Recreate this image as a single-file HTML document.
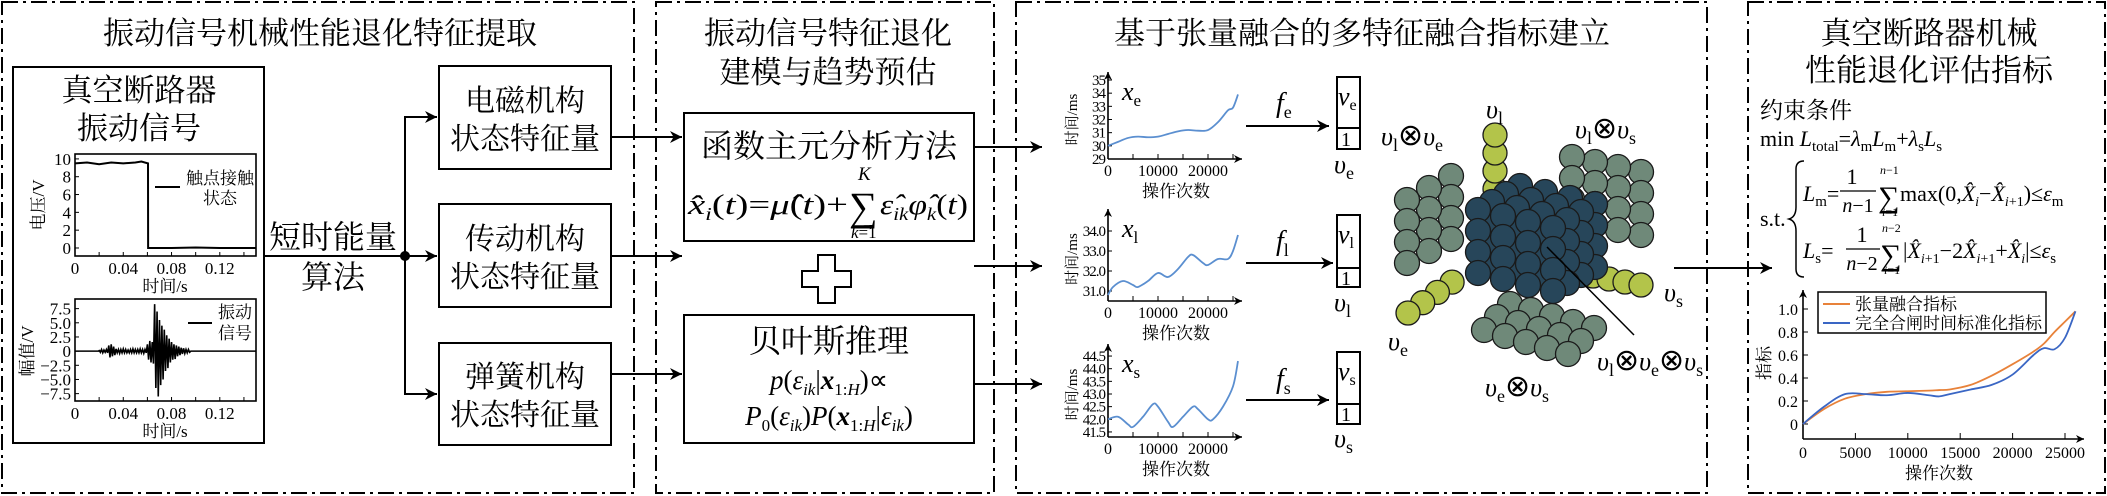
<!DOCTYPE html>
<html><head><meta charset="utf-8">
<style>
html,body{margin:0;padding:0;background:#fff;}
svg{display:block;}
.cn{font-family:"Liberation Serif","Noto Serif CJK SC",serif;}
.it{font-family:"Liberation Serif",serif;font-style:italic;}
.rm{font-family:"Liberation Serif",serif;}
</style></head>
<body>
<svg id="root" width="2107" height="496" viewBox="0 0 2107 496" xmlns="http://www.w3.org/2000/svg">
<defs>
<marker id="ah" viewBox="0 0 10 10" refX="10" refY="5" markerWidth="14" markerHeight="12" markerUnits="userSpaceOnUse" orient="auto"><path d="M0,0 L10,5 L0,10 L3,5 z" fill="#000"/></marker>
<marker id="ahs" viewBox="0 0 10 10" refX="10" refY="5" markerWidth="9" markerHeight="8" markerUnits="userSpaceOnUse" orient="auto"><path d="M0,0 L10,5 L0,10 L3,5 z" fill="#000"/></marker>
</defs>

<g fill="none" stroke="#000" stroke-width="2" stroke-dasharray="16 5 3 5">
<rect x="2" y="2" width="632" height="491"/>
<rect x="656" y="2" width="338" height="491"/>
<rect x="1016" y="2" width="691" height="491"/>
<rect x="1748" y="2" width="357" height="491"/>
</g>

<g class="cn" font-size="31" text-anchor="middle" fill="#000">
<text x="320" y="44">振动信号机械性能退化特征提取</text>
<text x="828" y="44">振动信号特征退化</text>
<text x="828" y="83">建模与趋势预估</text>
<text x="1362" y="44">基于张量融合的多特征融合指标建立</text>
<text x="1929" y="44">真空断路器机械</text>
<text x="1929" y="81">性能退化评估指标</text>
</g>

<rect x="13" y="67" width="251" height="376" fill="none" stroke="#000" stroke-width="2"/>
<g class="cn" font-size="31" text-anchor="middle">
<text x="139" y="101">真空断路器</text>
<text x="139" y="139">振动信号</text>
</g>
<g id="p1charts"></g>

<g class="cn" font-size="32" text-anchor="middle">
<text x="333" y="248">短时能量</text>
<text x="333" y="288">算法</text>
</g>
<g stroke="#000" stroke-width="2" fill="none">
<line x1="264" y1="256" x2="437" y2="256" marker-end="url(#ah)"/>
<polyline points="405,256 405,117 437,117" marker-end="url(#ah)"/>
<polyline points="405,256 405,394 437,394" marker-end="url(#ah)"/>
</g>
<circle cx="405" cy="256" r="5" fill="#000"/>
<g fill="none" stroke="#000" stroke-width="2">
<rect x="439" y="66" width="172" height="103"/>
<rect x="439" y="204" width="172" height="103"/>
<rect x="439" y="343" width="172" height="102"/>
</g>
<g class="cn" font-size="30" text-anchor="middle">
<text x="525" y="111">电磁机构</text>
<text x="525" y="149">状态特征量</text>
<text x="525" y="249">传动机构</text>
<text x="525" y="287">状态特征量</text>
<text x="525" y="387">弹簧机构</text>
<text x="525" y="425">状态特征量</text>
</g>
<g stroke="#000" stroke-width="2">
<line x1="611" y1="137" x2="682" y2="137" marker-end="url(#ah)"/>
<line x1="611" y1="256" x2="682" y2="256" marker-end="url(#ah)"/>
<line x1="611" y1="374" x2="682" y2="374" marker-end="url(#ah)"/>
</g>

<rect x="684" y="113" width="290" height="128" fill="none" stroke="#000" stroke-width="2"/>
<text class="cn" x="829" y="157" font-size="32" text-anchor="middle">函数主元分析方法</text>
<g class="it" font-size="29">
<text x="688" y="214" textLength="160" lengthAdjust="spacingAndGlyphs">x̂<tspan font-size="18" dy="6">i</tspan><tspan dy="-6" font-style="normal">(</tspan>t<tspan font-style="normal">)=</tspan>μ̂<tspan font-style="normal">(</tspan>t<tspan font-style="normal">)+</tspan></text>
<text x="849" y="220" font-style="normal" font-size="40">∑</text>
<text x="858" y="180" font-size="19">K</text>
<text x="851" y="238" font-size="17">k<tspan font-style="normal">=1</tspan></text>
<text x="880" y="214" textLength="88" lengthAdjust="spacingAndGlyphs">ε̂<tspan font-size="18" dy="6">ik</tspan><tspan dy="-6">φ̂</tspan><tspan font-size="18" dy="6">k</tspan><tspan dy="-6" font-style="normal">(</tspan>t<tspan font-style="normal">)</tspan></text>
</g>
<path d="M818,255 h17 v16 h16 v16 h-16 v16 h-17 v-16 h-16 v-16 h16 z" fill="#fff" stroke="#000" stroke-width="2"/>
<rect x="684" y="315" width="290" height="128" fill="none" stroke="#000" stroke-width="2"/>
<text class="cn" x="829" y="352" font-size="32" text-anchor="middle">贝叶斯推理</text>
<text class="it" x="829" y="389" font-size="27" text-anchor="middle">p<tspan font-style="normal">(</tspan>ε<tspan font-size="17" dy="6">ik</tspan><tspan dy="-6" font-style="normal">|</tspan><tspan font-weight="bold">x</tspan><tspan font-size="17" dy="6" font-style="normal">1:</tspan><tspan font-size="17">H</tspan><tspan dy="-6" font-style="normal">)∝</tspan></text>
<text class="it" x="829" y="425" font-size="27" text-anchor="middle">P<tspan font-size="17" dy="6" font-style="normal">0</tspan><tspan dy="-6" font-style="normal">(</tspan>ε<tspan font-size="17" dy="6">ik</tspan><tspan dy="-6" font-style="normal">)</tspan>P<tspan font-style="normal">(</tspan><tspan font-weight="bold">x</tspan><tspan font-size="17" dy="6" font-style="normal">1:</tspan><tspan font-size="17">H</tspan><tspan dy="-6" font-style="normal">|</tspan>ε<tspan font-size="17" dy="6">ik</tspan><tspan dy="-6" font-style="normal">)</tspan></text>
<g stroke="#000" stroke-width="2">
<line x1="974" y1="147" x2="1042" y2="147" marker-end="url(#ah)"/>
<line x1="974" y1="266" x2="1042" y2="266" marker-end="url(#ah)"/>
<line x1="974" y1="384" x2="1042" y2="384" marker-end="url(#ah)"/>
</g>

<g id="minis"></g>
<g stroke="#000" stroke-width="2">
<line x1="1246" y1="126" x2="1329" y2="126" marker-end="url(#ah)"/>
<line x1="1246" y1="263" x2="1333" y2="263" marker-end="url(#ah)"/>
<line x1="1246" y1="400" x2="1329" y2="400" marker-end="url(#ah)"/>
</g>
<g class="it" font-size="28">
<text x="1276" y="112">f<tspan font-size="18" dy="6" font-style="normal">e</tspan></text>
<text x="1276" y="250">f<tspan font-size="18" dy="6" font-style="normal">l</tspan></text>
<text x="1276" y="388">f<tspan font-size="18" dy="6" font-style="normal">s</tspan></text>
</g>
<g fill="none" stroke="#000" stroke-width="2">
<rect x="1337" y="77" width="23" height="72"/><line x1="1337" y1="128" x2="1360" y2="128"/>
<rect x="1337" y="215" width="23" height="72"/><line x1="1337" y1="268" x2="1360" y2="268"/>
<rect x="1337" y="352" width="23" height="72"/><line x1="1337" y1="404" x2="1360" y2="404"/>
</g>
<g class="it" font-size="26">
<text x="1338" y="105">v<tspan font-size="16" dy="5" font-style="normal">e</tspan></text>
<text x="1338" y="243">v<tspan font-size="16" dy="5" font-style="normal">l</tspan></text>
<text x="1338" y="380">v<tspan font-size="16" dy="5" font-style="normal">s</tspan></text>
<text x="1341" y="146" font-style="normal" font-size="20">1</text>
<text x="1341" y="285" font-style="normal" font-size="20">1</text>
<text x="1341" y="421" font-style="normal" font-size="20">1</text>
<text x="1334" y="173">υ<tspan font-size="18" dy="6" font-style="normal">e</tspan></text>
<text x="1334" y="311">υ<tspan font-size="18" dy="6" font-style="normal">l</tspan></text>
<text x="1334" y="447">υ<tspan font-size="18" dy="6" font-style="normal">s</tspan></text>
</g>
<g id="balls" stroke="#1a1a1a" stroke-width="1.3"></g>
<line x1="1547" y1="247" x2="1634" y2="335" stroke="#000" stroke-width="1.5"/>
<g class="it" font-size="26">
<text x="1486" y="118">υ<tspan font-size="18" dy="6" font-style="normal">l</tspan></text>
<text x="1381" y="145">υ<tspan font-size="18" dy="6" font-style="normal">l</tspan><tspan dy="-6" font-style="normal" font-size="30">⊗</tspan>υ<tspan font-size="18" dy="6" font-style="normal">e</tspan></text>
<text x="1575" y="138">υ<tspan font-size="18" dy="6" font-style="normal">l</tspan><tspan dy="-6" font-style="normal" font-size="30">⊗</tspan>υ<tspan font-size="18" dy="6" font-style="normal">s</tspan></text>
<text x="1664" y="301">υ<tspan font-size="18" dy="6" font-style="normal">s</tspan></text>
<text x="1388" y="350">υ<tspan font-size="18" dy="6" font-style="normal">e</tspan></text>
<text x="1485" y="396">υ<tspan font-size="18" dy="6" font-style="normal">e</tspan><tspan dy="-6" font-style="normal" font-size="30">⊗</tspan>υ<tspan font-size="18" dy="6" font-style="normal">s</tspan></text>
<text x="1597" y="370">υ<tspan font-size="18" dy="6" font-style="normal">l</tspan><tspan dy="-6" font-style="normal" font-size="30">⊗</tspan>υ<tspan font-size="18" dy="6" font-style="normal">e</tspan><tspan dy="-6" font-style="normal" font-size="30">⊗</tspan>υ<tspan font-size="18" dy="6" font-style="normal">s</tspan></text>
</g>
<line x1="1674" y1="268" x2="1772" y2="268" stroke="#000" stroke-width="2" marker-end="url(#ah)"/>

<text class="cn" x="1760" y="118" font-size="23">约束条件</text>
<text class="rm" x="1760" y="146" font-size="22">min  <tspan font-style="italic">L</tspan><tspan font-size="15" dy="5">total</tspan><tspan dy="-5">=</tspan><tspan font-style="italic">λ</tspan><tspan font-size="15" dy="5">m</tspan><tspan dy="-5" font-style="italic">L</tspan><tspan font-size="15" dy="5">m</tspan><tspan dy="-5">+</tspan><tspan font-style="italic">λ</tspan><tspan font-size="15" dy="5">s</tspan><tspan dy="-5" font-style="italic">L</tspan><tspan font-size="15" dy="5">s</tspan></text>
<text class="rm" x="1760" y="226" font-size="22">s.t.</text>
<path d="M1804,161 q-8,0 -8,8 v38 q0,10 -7,12 q7,2 7,12 v38 q0,8 8,8" fill="none" stroke="#000" stroke-width="1.5"/>
<g class="rm" font-size="22">
<text x="1803" y="201"><tspan font-style="italic">L</tspan><tspan font-size="15" dy="5">m</tspan><tspan dy="-5">=</tspan></text>
<text x="1852" y="184" text-anchor="middle">1</text>
<line x1="1840" y1="191" x2="1876" y2="191" stroke="#000" stroke-width="1.2"/>
<text x="1858" y="212" text-anchor="middle" font-size="20"><tspan font-style="italic">n</tspan>−1</text>
<text x="1878" y="207" font-size="30">∑</text>
<text x="1880" y="174" font-size="12"><tspan font-style="italic">n</tspan>−1</text>
<text x="1882" y="216" font-size="12"><tspan font-style="italic">i</tspan>=1</text>
<text x="1900" y="201">max(0,<tspan font-style="italic">X̂</tspan><tspan font-size="14" dy="5" font-style="italic">i</tspan><tspan dy="-5">−</tspan><tspan font-style="italic">X̂</tspan><tspan font-size="14" dy="5" font-style="italic">i</tspan><tspan font-size="14">+1</tspan><tspan dy="-5">)≤</tspan><tspan font-style="italic">ε</tspan><tspan font-size="15" dy="5">m</tspan></text>
</g>
<g class="rm" font-size="22">
<text x="1803" y="258"><tspan font-style="italic">L</tspan><tspan font-size="15" dy="5">s</tspan><tspan dy="-5">=</tspan></text>
<text x="1862" y="242" text-anchor="middle">1</text>
<line x1="1846" y1="249" x2="1880" y2="249" stroke="#000" stroke-width="1.2"/>
<text x="1862" y="270" text-anchor="middle" font-size="20"><tspan font-style="italic">n</tspan>−2</text>
<text x="1880" y="265" font-size="30">∑</text>
<text x="1882" y="232" font-size="12"><tspan font-style="italic">n</tspan>−2</text>
<text x="1884" y="274" font-size="12"><tspan font-style="italic">i</tspan>=1</text>
<text x="1903" y="258">|<tspan font-style="italic">X̂</tspan><tspan font-size="14" dy="5" font-style="italic">i</tspan><tspan font-size="14">+1</tspan><tspan dy="-5">−2</tspan><tspan font-style="italic">X̂</tspan><tspan font-size="14" dy="5" font-style="italic">i</tspan><tspan font-size="14">+1</tspan><tspan dy="-5">+</tspan><tspan font-style="italic">X̂</tspan><tspan font-size="14" dy="5" font-style="italic">i</tspan><tspan dy="-5">|≤</tspan><tspan font-style="italic">ε</tspan><tspan font-size="15" dy="5">s</tspan></text>
</g>
<g id="idxchart"></g>
</svg>

<script>
const voltTimes = [0, 0.01, 0.02, 0.03, 0.04, 0.05, 0.055, 0.0605, 0.0606, 0.08, 0.1, 0.12, 0.15];
const voltValues = [9.5, 9.6, 9.4, 9.6, 9.5, 9.6, 9.7, 9.5, 0, 0, 0.05, 0, 0];
const voltXTicks = ["0", "0.04", "0.08", "0.12"];
const voltYTicks = ["0", "2", "4", "6", "8", "10"];
const vibStart = 0.02, vibStep = 0.001;
const vibValues = [0.2,-0.2,0.3,-0.3,0.2,-0.2,0.3,-0.3,1.0,-1.1,1.2,-0.9,0.8,-0.7,0.4,-0.3,0.3,-0.4,0.3,-0.3,0.4,-0.3,0.3,-0.3,0.2,-0.3,0.3,-0.3,0.4,-0.3,0.3,-0.3,0.3,-0.3,0.4,-0.3,0.3,-0.4,0.3,-0.3,1.2,-1.5,1.8,-2.0,1.6,-2.2,8.3,-6.5,7.0,-8.0,5.5,-6.0,4.5,-5.0,3.8,-3.5,2.8,-3.0,2.2,-2.0,1.6,-1.5,1.2,-1.4,1.0,-0.9,0.8,-0.7,0.6,-0.5,0.5,-0.4,0.3,-0.3,0.3,-0.2];
const vibYTicks = ["−7.5", "−5.0", "−2.5", "0", "2.5", "5.0", "7.5"];
const vibYTickVals = [-7.5, -5, -2.5, 0, 2.5, 5, 7.5];

const opsK = [0, 2, 4, 6, 8, 10, 12, 14, 16, 18, 20, 22, 24, 25, 26];
const xeValues = [30.0, 30.3, 30.6, 30.7, 30.65, 30.7, 30.9, 31.1, 31.2, 31.15, 31.2, 31.8, 32.7, 32.9, 33.9];
const xlOps = [0, 1, 3, 5, 6, 8, 10, 12, 14, 16, 17, 19, 20, 22, 24, 25, 26];
const xlValues = [30.8, 31.2, 31.5, 31.3, 31.2, 31.5, 31.9, 31.7, 32.1, 32.7, 32.8, 32.4, 32.3, 32.6, 32.6, 33.0, 33.8];
const xsOps = [0, 2, 4, 5, 7, 9, 10, 12, 13, 15, 17, 18, 20, 21, 23, 25, 26];
const xsValues = [42.0, 42.1, 41.8, 41.7, 42.1, 42.6, 42.5, 41.9, 41.7, 42.1, 42.5, 42.4, 42.0, 42.0, 42.5, 43.3, 44.3];
const xeYTicks = ["29", "30", "31", "32", "33", "34", "35"];
const xlYTicks = ["31.0", "32.0", "33.0", "34.0"];
const xsYTicks = ["41.5", "42.0", "42.5", "43.0", "43.5", "44.0", "44.5"];
const miniXTicks = ["0", "10000", "20000"];

const idxOps = [0, 2, 4, 6, 8, 10, 12, 13, 14, 16, 18, 20, 22, 23, 24, 25, 26];
const fusionIndex = [0, 0.13, 0.22, 0.26, 0.28, 0.285, 0.29, 0.295, 0.30, 0.34, 0.42, 0.52, 0.63, 0.70, 0.80, 0.89, 0.98];
const closingIndex = [0, 0.15, 0.26, 0.26, 0.25, 0.27, 0.25, 0.24, 0.26, 0.30, 0.34, 0.43, 0.60, 0.66, 0.65, 0.75, 0.98];
const idxYTicks = ["0", "0.2", "0.4", "0.6", "0.8", "1.0"];
const idxXTicks = ["0", "5000", "10000", "15000", "20000", "25000"];
const legendLabels = ["张量融合指标", "完全合闸时间标准化指标"];

const NS = "http://www.w3.org/2000/svg";
function mk(tag, attrs, parent, text) {
  const e = document.createElementNS(NS, tag);
  for (const k in attrs) e.setAttribute(k, attrs[k]);
  if (text !== undefined) e.textContent = text;
  parent.appendChild(e);
  return e;
}
function lin(d0, d1, r0, r1) { return v => r0 + (v - d0) / (d1 - d0) * (r1 - r0); }
function smooth(pts) {
  let d = "M" + pts[0][0].toFixed(1) + "," + pts[0][1].toFixed(1);
  for (let i = 0; i < pts.length - 1; i++) {
    const p0 = pts[Math.max(0, i - 1)], p1 = pts[i], p2 = pts[i + 1], p3 = pts[Math.min(pts.length - 1, i + 2)];
    const c1 = [p1[0] + (p2[0] - p0[0]) / 6, p1[1] + (p2[1] - p0[1]) / 6];
    const c2 = [p2[0] - (p3[0] - p1[0]) / 6, p2[1] - (p3[1] - p1[1]) / 6];
    d += " C" + c1.join(",") + " " + c2.join(",") + " " + p2.join(",");
  }
  return d;
}
const serif = '"Liberation Serif","Noto Serif CJK SC",serif';

const p1 = document.getElementById("p1charts");
function timeAxes(g, top, bottom, ymin, ymax) {
  const x = lin(0, 0.15, 75, 256);
  const y = lin(ymin, ymax, bottom, top);
  const ax = mk("rect", {x: 75, y: top, width: 181, height: bottom - top, fill: "none", stroke: "#000", "stroke-width": 1.6}, g);
  
  
  [0.02, 0.04, 0.06, 0.08, 0.1, 0.12, 0.14].forEach(t => mk("line", {x1: x(t), x2: x(t), y1: bottom, y2: bottom - 4, stroke: "#000"}, g));
  voltXTicks.forEach(l => {
    const t = mk("text", {x: x(parseFloat(l)), y: bottom + 18, "font-size": 17, "text-anchor": "middle", "font-family": serif}, g, l);
    
    
  });
  const xl = mk("text", {x: 165, y: bottom + 36, "font-size": 17, "text-anchor": "middle", "font-family": serif}, g, "时间/s");
  
  
  return {x, y};
}
const gv = mk("g", {}, p1);


const av = timeAxes(gv, 154, 256, -0.9, 10.55);
voltYTicks.forEach(l => {
  const v = parseFloat(l);
  mk("line", {x1: 75, x2: 79, y1: av.y(v), y2: av.y(v), stroke: "#000"}, gv);
  const t = mk("text", {x: 71, y: av.y(v) + 6, "font-size": 17, "text-anchor": "end", "font-family": serif}, gv, l);
  
  
});
const vLine = mk("polyline", {points: voltTimes.map((t, i) => av.x(t) + "," + av.y(voltValues[i])).join(" "), fill: "none", stroke: "#000", "stroke-width": 2}, gv);


const vyl = mk("text", {transform: "translate(44,205) rotate(-90)", "font-size": 17, "text-anchor": "middle", "font-family": serif}, gv, "电压/V");


mk("line", {x1: 155, x2: 180, y1: 187, y2: 187, stroke: "#000", "stroke-width": 2}, gv);
const l1a = mk("text", {x: 220, y: 184, "font-size": 17, "text-anchor": "middle", "font-family": serif}, gv, "触点接触");


mk("text", {x: 220, y: 204, "font-size": 17, "text-anchor": "middle", "font-family": serif}, gv, "状态");

const gb = mk("g", {}, p1);


const ab = timeAxes(gb, 299, 401, -8.8, 9.2);
vibYTicks.forEach((l, i) => {
  const v = vibYTickVals[i];
  mk("line", {x1: 75, x2: 79, y1: ab.y(v), y2: ab.y(v), stroke: "#000"}, gb);
  const t = mk("text", {x: 71, y: ab.y(v) + 6, "font-size": 17, "text-anchor": "end", "font-family": serif}, gb, l);
  
  
});
const vibPts = [[ab.x(0), ab.y(0)], [ab.x(vibStart), ab.y(0)]];
vibValues.forEach((v, i) => vibPts.push([ab.x(vibStart + i * vibStep), ab.y(v)]));
vibPts.push([ab.x(vibStart + vibValues.length * vibStep), ab.y(0)], [ab.x(0.15), ab.y(0)]);
const bl = mk("polyline", {points: vibPts.map(p => p.join(",")).join(" "), fill: "none", stroke: "#000", "stroke-width": 1.6}, gb);


const byl = mk("text", {transform: "translate(33,351) rotate(-90)", "font-size": 17, "text-anchor": "middle", "font-family": serif}, gb, "幅值/V");


mk("line", {x1: 188, x2: 212, y1: 323, y2: 323, stroke: "#000", "stroke-width": 2}, gb);
const l2a = mk("text", {x: 235, y: 318, "font-size": 17, "text-anchor": "middle", "font-family": serif}, gb, "振动");


mk("text", {x: 235, y: 339, "font-size": 17, "text-anchor": "middle", "font-family": serif}, gb, "信号");

const minis = document.getElementById("minis");
function mini(name, label, sub, ops, vals, ticks, top, bottom, vBottom, vTop) {
  const g = mk("g", {}, minis);
  
  
  const x = lin(0, 10, 1108, 1158);
  const y = lin(vBottom, vTop, bottom, top);
  mk("line", {x1: 1108, y1: bottom, x2: 1108, y2: top - 8, stroke: "#000", "stroke-width": 1.6, "marker-end": "url(#ahs)"}, g);
  mk("line", {x1: 1108, y1: bottom, x2: 1242, y2: bottom, stroke: "#000", "stroke-width": 1.6, "marker-end": "url(#ahs)"}, g);
  [5, 10, 15, 20, 25].forEach(k => mk("line", {x1: x(k), x2: x(k), y1: bottom, y2: bottom - 5, stroke: "#000"}, g));
  ticks.forEach(l => {
    const v = parseFloat(l);
    mk("line", {x1: 1108, x2: 1112, y1: y(v), y2: y(v), stroke: "#000"}, g);
    const t = mk("text", {x: 1105, y: y(v) + 5, "font-size": 15, "text-anchor": "end", "font-family": serif, "letter-spacing": "-1"}, g, l);
    
    
  });
  miniXTicks.forEach(l => {
    const t = mk("text", {x: x(parseFloat(l) / 1000), y: bottom + 17, "font-size": 16, "text-anchor": "middle", "font-family": serif}, g, l);
    
    
  });
  const xt = mk("text", {x: 1176, y: bottom + 38, "font-size": 17, "text-anchor": "middle", "font-family": serif}, g, "操作次数");
  
  
  const yt = mk("text", {transform: "translate(1077," + ((top + bottom) / 2) + ") rotate(-90)", "font-size": 15, "text-anchor": "middle", "font-family": serif}, g, "时间/ms");
  
  
  const lb = mk("text", {x: 1122, y: top + 20, "font-size": 26, "font-family": serif, "font-style": "italic"}, g, label);
  
  
  mk("tspan", {"font-size": 17, dy: 6, "font-style": "normal"}, lb, sub);
  const p = mk("path", {d: smooth(ops.map((o, i) => [x(o), y(vals[i])])), fill: "none", stroke: "#5b8fd0", "stroke-width": 1.8}, g);
  
  
}
mini("xe-chart", "x", "e", opsK, xeValues, xeYTicks, 80, 159, 29, 35);
mini("xl-chart", "x", "l", xlOps, xlValues, xlYTicks, 217, 301, 30.5, 34.7);
mini("xs-chart", "x", "s", xsOps, xsValues, xsYTicks, 352, 437, 41.3, 44.66);

const balls = document.getElementById("balls");
const GRAY = "#6f8979", DARK = "#27465a", YEL = "#b3c44a";
function grp(name) { const g = mk("g", {}, balls);   return g; }
let gg = grp("plane-vl-ve");
for (let c = 2; c >= 0; c--) for (let r = 0; r < 4; r++) mk("circle", {cx: 1407 + c * 22, cy: 200 - c * 12 + r * 21, r: 12.5, fill: GRAY}, gg);
gg = grp("plane-vl-vs");
for (let c = 3; c >= 0; c--) for (let r = 0; r < 4; r++) mk("circle", {cx: 1572 + c * 23, cy: 157 + c * 5 + r * 21, r: 12.5, fill: GRAY}, gg);
gg = grp("chain-vl");
for (let i = 3; i >= 0; i--) mk("circle", {cx: 1495, cy: 135 + i * 18, r: 12, fill: YEL}, gg);
gg = grp("chain-vs");
for (let i = 0; i < 4; i++) mk("circle", {cx: 1593 + i * 16, cy: 276 + i * 3, r: 12, fill: YEL}, gg);
gg = grp("plane-ve-vs");
for (let r = 2; r >= 0; r--) for (let c = 0; c < 5; c++) mk("circle", {cx: 1484 + c * 21 + r * 13, cy: 330 + c * 6 - r * 13, r: 12.5, fill: GRAY}, gg);
gg = grp("chain-ve");
for (let i = 3; i >= 0; i--) mk("circle", {cx: 1408 + i * 14.7, cy: 313 - i * 10.3, r: 12, fill: YEL}, gg);
gg = grp("core-tensor");
for (let k = 0; k < 4; k++) for (let j = 0; j < 4; j++) for (let i = 0; i < 4; i++)
  mk("circle", {cx: 1520 + i * 25 - k * 14, cy: 186 + i * 6 + j * 21 + k * 8, r: 12.5, fill: DARK}, gg);

const ic = document.getElementById("idxchart");


const ix = lin(0, 25, 1803, 2065);
const iy = lin(0, 1, 424, 309);
mk("line", {x1: 1803, y1: 439, x2: 1803, y2: 290, stroke: "#000", "stroke-width": 1.6, "marker-end": "url(#ahs)"}, ic);
mk("line", {x1: 1803, y1: 439, x2: 2084, y2: 439, stroke: "#000", "stroke-width": 1.6, "marker-end": "url(#ahs)"}, ic);
idxXTicks.forEach(l => {
  const v = parseFloat(l) / 1000;
  mk("line", {x1: ix(v), x2: ix(v), y1: 439, y2: 433, stroke: "#000"}, ic);
  const t = mk("text", {x: ix(v), y: 458, "font-size": 16, "text-anchor": "middle", "font-family": serif}, ic, l);
  
  
});
idxYTicks.forEach(l => {
  const v = parseFloat(l);
  mk("line", {x1: 1803, x2: 1808, y1: iy(v), y2: iy(v), stroke: "#000"}, ic);
  const t = mk("text", {x: 1798, y: iy(v) + 6, "font-size": 16, "text-anchor": "end", "font-family": serif}, ic, l);
  
  
});
const ixt = mk("text", {x: 1939, y: 479, "font-size": 17, "text-anchor": "middle", "font-family": serif}, ic, "操作次数");


const iyt = mk("text", {transform: "translate(1770,363) rotate(-90)", "font-size": 17, "text-anchor": "middle", "font-family": serif}, ic, "指标");


const pf = mk("path", {d: smooth(idxOps.map((o, i) => [ix(o), iy(fusionIndex[i])])), fill: "none", stroke: "#e8823a", "stroke-width": 1.8}, ic);


const pc = mk("path", {d: smooth(idxOps.map((o, i) => [ix(o), iy(closingIndex[i])])), fill: "none", stroke: "#3a66c4", "stroke-width": 1.8}, ic);


const lg = mk("rect", {x: 1818, y: 292, width: 228, height: 41, fill: "#fff", stroke: "#000", "stroke-width": 1.5}, ic);


[["#e8823a", 304], ["#3a66c4", 323]].forEach((s, i) => {
  mk("line", {x1: 1823, x2: 1850, y1: s[1], y2: s[1], stroke: s[0], "stroke-width": 2}, ic);
  const t = mk("text", {x: 1855, y: s[1] + 6, "font-size": 17, "font-family": serif}, ic, legendLabels[i]);
  
  
});
</script>
</body></html>
